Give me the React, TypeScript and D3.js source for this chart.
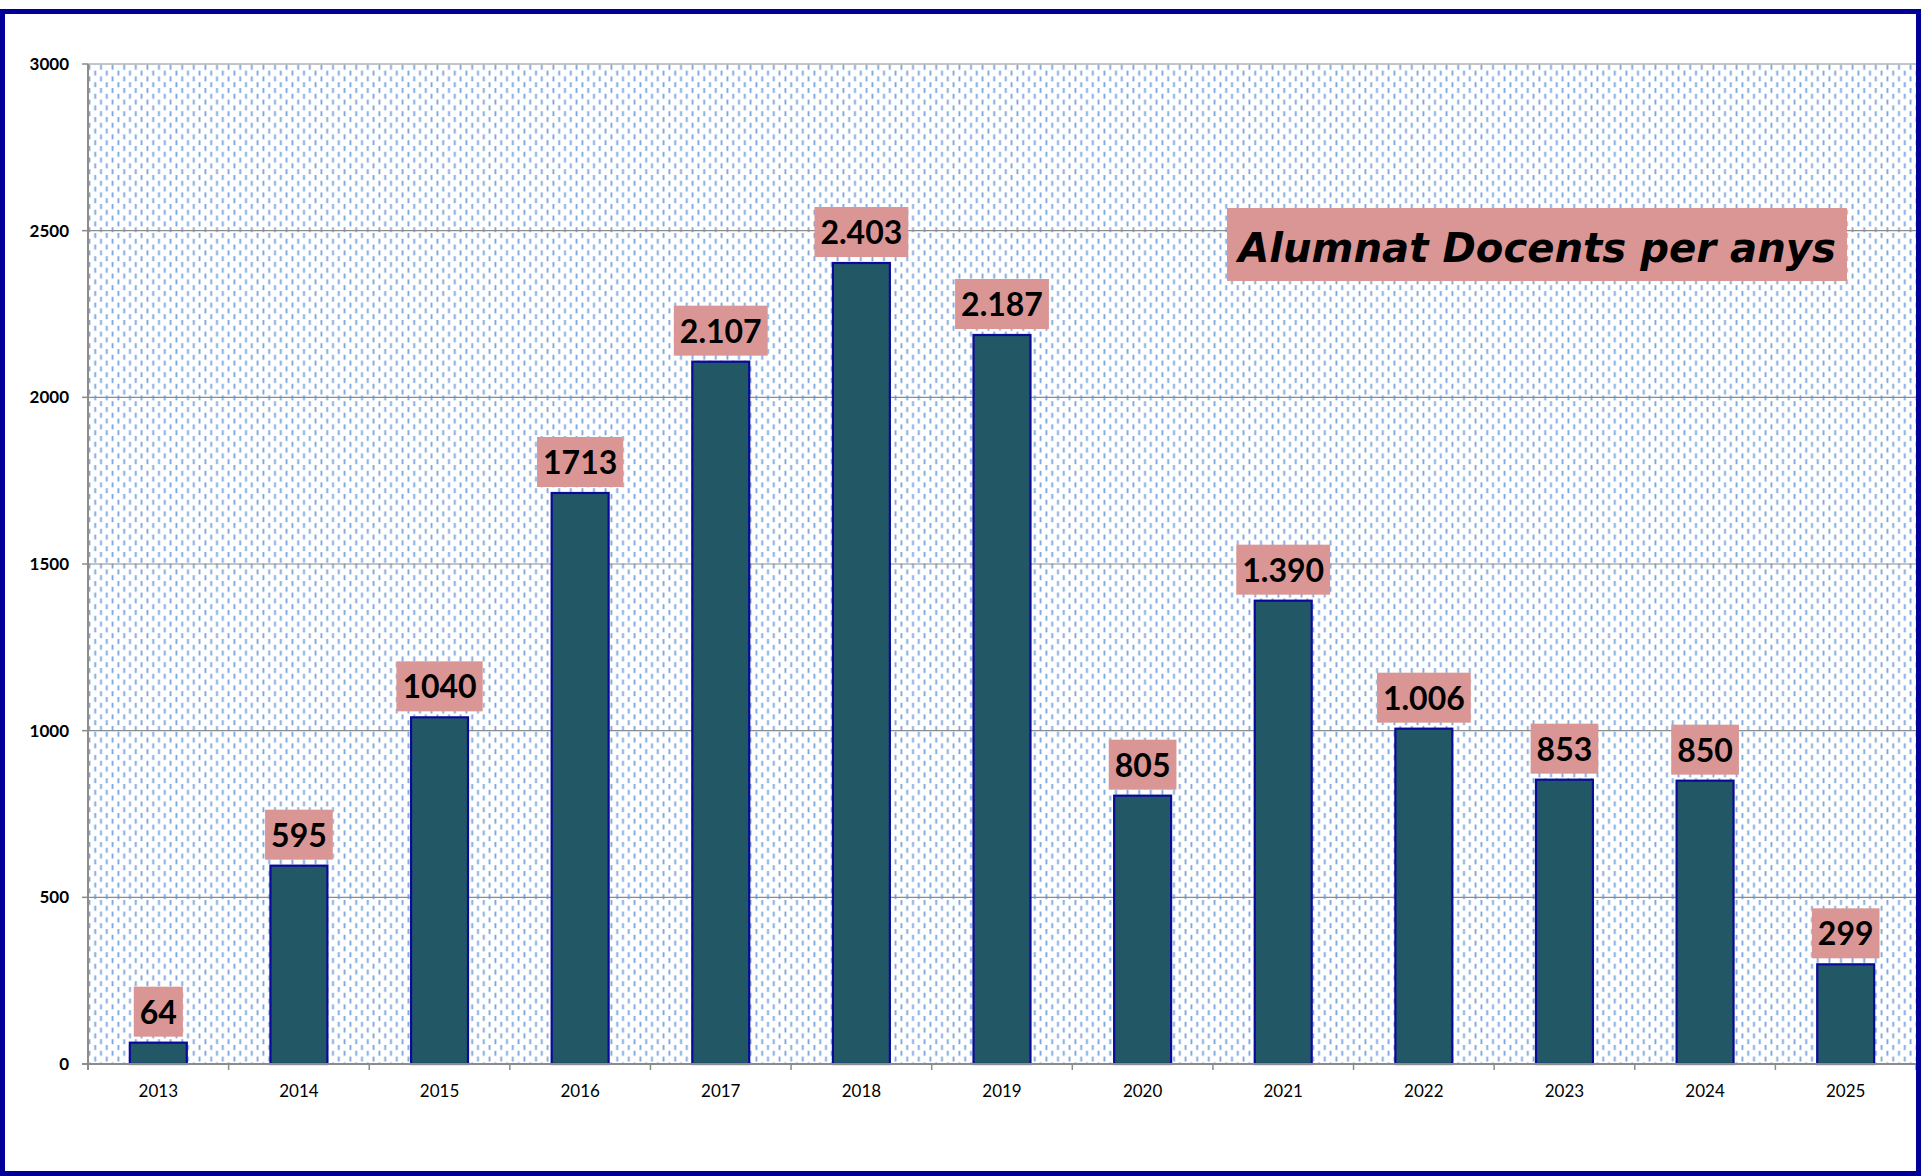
import React from "react";
import * as d3 from "d3";

const years = ["2013","2014","2015","2016","2017","2018","2019","2020","2021","2022","2023","2024","2025"];
const values = [64, 595, 1040, 1713, 2107, 2403, 2187, 805, 1390, 1006, 853, 850, 299];
const valueLabels = ["64","595","1040","1713","2.107","2.403","2.187","805","1.390","1.006","853","850","299"];
const yTicks = [0, 500, 1000, 1500, 2000, 2500, 3000];
const title = "Alumnat Docents per anys";

const W = 1921, H = 1176;
const plot = { left: 88, top: 64, right: 1916, bottom: 1064 };

let ctx: CanvasRenderingContext2D | null = null;
function measure(text: string, font: string): number {
  if (!ctx) ctx = document.createElement("canvas").getContext("2d");
  if (!ctx) return text.length * 17;
  ctx.font = font;
  return ctx.measureText(text).width;
}

export default function App() {
  const x = d3.scaleBand<string>().domain(years).range([plot.left, plot.right]).paddingInner(0.595).paddingOuter(0.2975);
  const xb = d3.scaleBand<string>().domain(years).range([plot.left, plot.right]);
  const y = d3.scaleLinear().domain([0, 3000]).range([plot.bottom, plot.top]);
  const labelFont = "bold 32px Lato";
  const bw = x.bandwidth();
  const titleW = measure(title, "italic bold 100px 'DejaVu Sans'");
  const titleSize = Math.min(50, (598 / titleW) * 100);

  return (
    <svg width={W} height={H} style={{ position: "absolute", left: 0, top: 0, background: "#fff" }}>
      <defs>
        <pattern id="dash" width={11.6} height={11.6} patternUnits="userSpaceOnUse">
          <rect x={1.5} y={1} width={1.8} height={5} fill="#78a3db" />
          <rect x={7.3} y={6.8} width={1.8} height={5} fill="#78a3db" />
          <rect x={7.3} y={-4.8} width={1.8} height={5} fill="#78a3db" />
        </pattern>
      </defs>
      <rect x={plot.left} y={plot.top} width={plot.right - plot.left} height={plot.bottom - plot.top} fill="url(#dash)" />
      {yTicks.map((t) => (
        <g key={t}>
          {t > 0 && (
            <line x1={plot.left} x2={plot.right} y1={y(t)} y2={y(t)} stroke="#8c8c8c" strokeWidth={1.2} />
          )}
          <line x1={plot.left - 6} x2={plot.left} y1={y(t)} y2={y(t)} stroke="#8c8c8c" strokeWidth={1.5} />
          <text x={69} y={y(t) + 6} textAnchor="end" fontFamily="Lato" fontWeight="bold" fontSize={17} fill="#000">
            {t}
          </text>
        </g>
      ))}
      {years.map((yr) => (
        <line key={"t" + yr} x1={xb(yr)!} x2={xb(yr)!} y1={plot.bottom} y2={plot.bottom + 6} stroke="#8c8c8c" strokeWidth={1.5} />
      ))}
      <line x1={plot.right} x2={plot.right} y1={plot.bottom} y2={plot.bottom + 6} stroke="#8c8c8c" strokeWidth={1.5} />
      {years.map((yr, i) => {
        const bx = x(yr)!;
        const by = y(values[i]);
        const cx = bx + bw / 2;
        const tw = measure(valueLabels[i], labelFont);
        const boxW = tw + 12;
        const boxH = 50;
        const boxBottom = by - 6;
        return (
          <g key={yr}>
            <rect x={bx} y={by} width={bw} height={plot.bottom - by} fill="#225866" stroke="#0a0a9a" strokeWidth={2.2} />
            <rect x={cx - boxW / 2} y={boxBottom - boxH} width={boxW} height={boxH} fill="#da9694" />
            <text x={cx} y={boxBottom - 13} textAnchor="middle" fontFamily="Lato" fontWeight="bold" fontSize={32} fill="#000">
              {valueLabels[i]}
            </text>
            <text x={cx} y={1097} textAnchor="middle" fontFamily="Lato" fontSize={17} fill="#000">
              {yr}
            </text>
          </g>
        );
      })}
      <line x1={plot.left} x2={plot.left} y1={plot.top} y2={plot.bottom + 6} stroke="#8c8c8c" strokeWidth={2} />
      <line x1={plot.left - 6} x2={plot.right} y1={plot.bottom} y2={plot.bottom} stroke="#8c8c8c" strokeWidth={2} />
      <rect x={1227} y={208} width={620} height={73} fill="#da9694" />
      <text x={1537} y={262} textAnchor="middle" fontFamily="DejaVu Sans" fontWeight="bold" fontStyle="italic" fontSize={titleSize} fill="#000">
        {title}
      </text>
      <rect x={2.5} y={11.5} width={W - 5} height={H - 14} fill="none" stroke="#000099" strokeWidth={5} />
    </svg>
  );
}
